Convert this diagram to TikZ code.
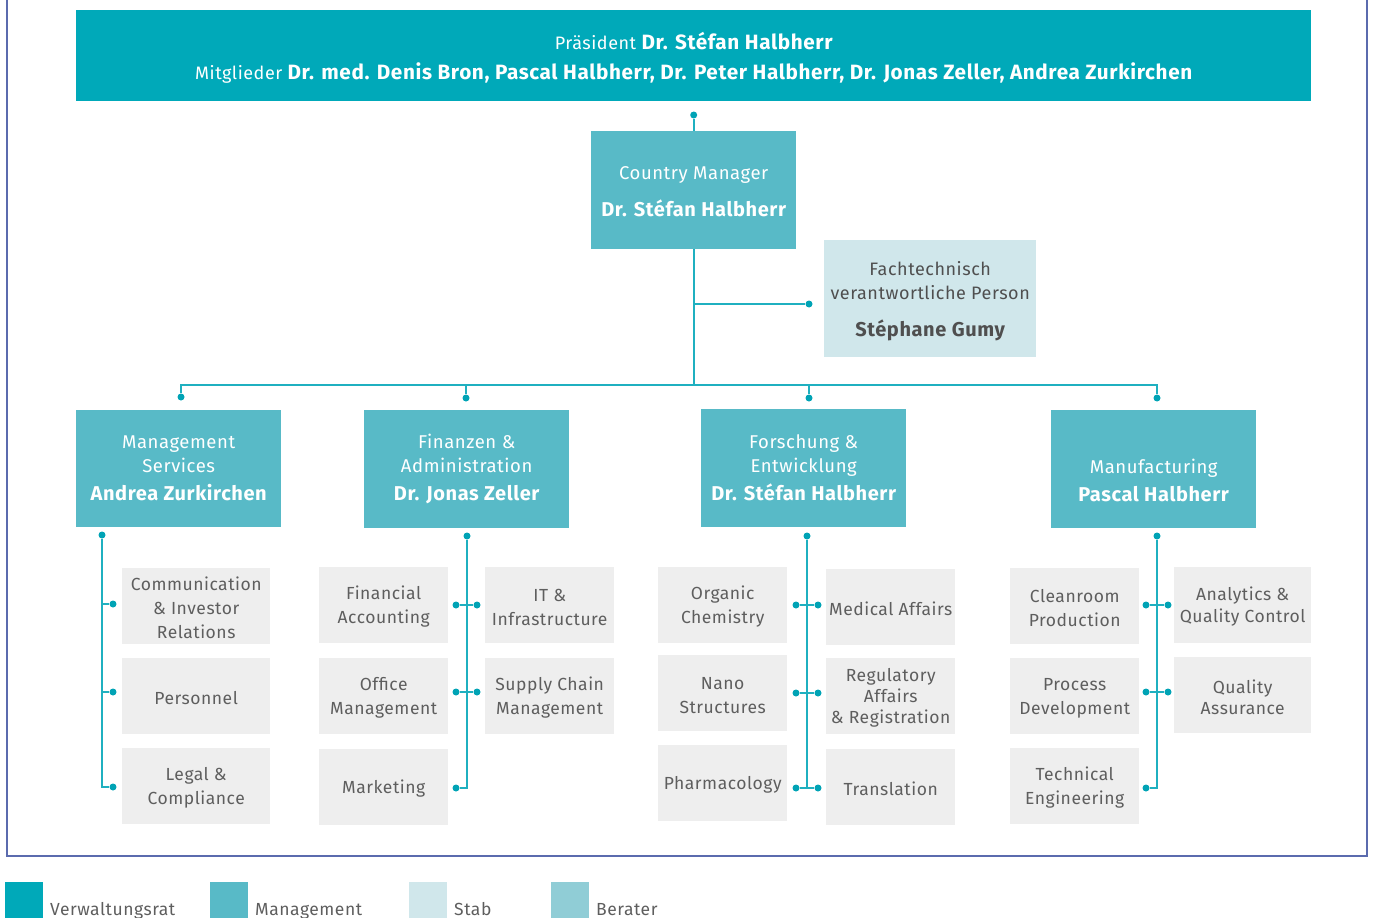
\documentclass[tikz,border=0pt]{standalone}
\usepackage{fontspec}
\setmainfont{Fira Sans}[LetterSpace=3]
\definecolor{vr}{HTML}{00A9B9}
\definecolor{mg}{HTML}{58BAC7}
\definecolor{st}{HTML}{D0E7EB}
\definecolor{be}{HTML}{90CDD6}
\definecolor{gb}{HTML}{EEEEEE}
\definecolor{gt}{HTML}{5E5E5E}
\definecolor{stt}{HTML}{4F4F4F}
\definecolor{ln}{HTML}{1FB0C0}
\definecolor{dt}{HTML}{00A3B5}
\definecolor{fr}{HTML}{5B6BAE}
\tikzset{
  box/.style={rectangle, inner sep=0pt, align=center, anchor=north west},
  vrbox/.style={box, fill=vr, text=white, font=\fontsize{18}{30}\selectfont},
  mgbox/.style={box, fill=mg, text=white, font=\fontsize{18.5}{24}\selectfont},
  stbox/.style={box, fill=st, text=stt, font=\fontsize{18}{24}\selectfont},
  unit/.style={box, fill=gb, text=gt, font=\fontsize{17.5}{24}\selectfont},
  conn/.style={draw=ln, line width=1.8pt},
  dot/.style={circle, fill=dt, inner sep=0pt, minimum size=7pt},
  legsq/.style={rectangle, inner sep=0pt, anchor=north west, minimum width=38pt, minimum height=40pt},
  leglab/.style={anchor=base west, inner sep=0pt, text=gt, font=\fontsize{17.5}{20}\selectfont},
}
\newcommand{\bn}[1]{{\fontsize{20}{24}\selectfont\bfseries #1}}
\newcommand{\hb}[1]{{\fontsize{20.7}{24}\selectfont\bfseries #1}}
\newcommand{\ts}{\rule{0pt}{17pt}}
\begin{document}
\begin{tikzpicture}[x=1pt,y=-1pt]
\useasboundingbox (0,0) rectangle (1373,918);
% frame
\draw[fr, line width=1.3pt] (7,-5) -- (7,856) -- (1367,856) -- (1367,-5);

% header
\node[vrbox, minimum width=1235pt, minimum height=91pt] (hdr) at (76,10)
  {\rule{0pt}{21pt}Präsident \hb{Dr. Stéfan Halbherr}\\
   Mitglieder \hb{Dr. med. Denis Bron, Pascal Halbherr, Dr. Peter Halbherr, Dr. Jonas Zeller, Andrea Zurkirchen}};

% country manager
\node[mgbox, minimum width=205pt, minimum height=118pt] (cm) at (591,131)
  {\rule{0pt}{16pt}Country Manager\\[13pt]\bn{Dr. Stéfan Halbherr}};
% stab
\node[stbox, minimum width=212pt, minimum height=117pt] (stab) at (824,240)
  {\rule{0pt}{20pt}Fachtechnisch\\verantwortliche Person\\[13pt]\bn{Stéphane Gumy}};

% management row
\node[mgbox, minimum width=205pt, minimum height=117pt] (ms) at (76,410)
  {Management\\Services\\[4pt]\bn{Andrea Zurkirchen}};
\node[mgbox, minimum width=205pt, minimum height=118pt] (fa) at (364,410)
  {Finanzen \&\\Administration\\[4pt]\bn{Dr. Jonas Zeller}};
\node[mgbox, minimum width=205pt, minimum height=118pt] (fe) at (701,409)
  {Forschung \&\\Entwicklung\\[4pt]\bn{Dr. Stéfan Halbherr}};
\node[mgbox, minimum width=205pt, minimum height=118pt] (mf) at (1051,410)
  {\vphantom{Mg}\\Manufacturing\\[4pt]\bn{Pascal Halbherr}};

% units: Management Services
\node[unit, minimum width=148pt, minimum height=76pt] (ms1) at (122,568) {\ts Communication\\\& Investor\\Relations};
\node[unit, minimum width=148pt, minimum height=76pt] (ms2) at (122,658) {\ts Personnel};
\node[unit, minimum width=148pt, minimum height=76pt] (ms3) at (122,748) {\ts Legal \&\\Compliance};
% units: Finanzen
\node[unit, minimum width=129pt, minimum height=76pt] (fa1) at (319,567) {\ts Financial\\Accounting};
\node[unit, minimum width=129pt, minimum height=76pt] (fa2) at (319,658) {\ts Office\\Management};
\node[unit, minimum width=129pt, minimum height=76pt] (fa3) at (319,749) {\ts Marketing};
\node[unit, minimum width=129pt, minimum height=76pt] (fa4) at (485,567) {\ts IT \&\\Infrastructure};
\node[unit, minimum width=129pt, minimum height=76pt] (fa5) at (485,658) {\ts Supply Chain\\Management};
% units: Forschung
\node[unit, minimum width=129pt, minimum height=76pt] (fe1) at (658,567) {\ts Organic\\Chemistry};
\node[unit, minimum width=129pt, minimum height=76pt] (fe2) at (658,655) {\ts Nano\\Structures};
\node[unit, minimum width=129pt, minimum height=76pt] (fe3) at (658,745) {\ts Pharmacology};
\node[unit, minimum width=129pt, minimum height=76pt] (fe4) at (826,569) {\ts Medical Affairs};
\node[unit, minimum width=129pt, minimum height=76pt, font=\fontsize{17.5}{21}\selectfont] (fe5) at (826,658) {\ts Regulatory\\Affairs\\\& Registration};
\node[unit, minimum width=129pt, minimum height=76pt] (fe6) at (826,749) {\ts Translation};
% units: Manufacturing
\node[unit, minimum width=129pt, minimum height=76pt] (mf1) at (1010,568) {\ts Cleanroom\\Production};
\node[unit, minimum width=129pt, minimum height=76pt] (mf2) at (1010,658) {\ts Process\\Development};
\node[unit, minimum width=129pt, minimum height=76pt] (mf3) at (1010,748) {\ts Technical\\Engineering};
\node[unit, minimum width=137pt, minimum height=76pt, font=\fontsize{17.5}{22}\selectfont] (mf4) at (1174,567) {\ts Analytics \&\\Quality Control};
\node[unit, minimum width=137pt, minimum height=76pt, font=\fontsize{17.5}{21}\selectfont] (mf5) at (1174,657) {\ts Quality\\Assurance};

% --- connectors top
\node[dot] (dtop) at (cm.north |- 0,115) {};
\draw[conn] (dtop) -- (cm.north);
\coordinate (bus) at (cm.south |- 0,385);
\coordinate (sj) at (cm.south |- 0,304);
\node[dot] (dst) at (809,304) {};
\draw[conn] (cm.south) -- (bus);
\draw[conn] (sj) -- (dst);
\node[dot] (dms) at (181,397) {};
\node[dot] (dfa) at (466,398) {};
\node[dot] (dfe) at (809,398) {};
\node[dot] (dmf) at (1157,398) {};
\draw[conn] (dms) -- (181,385) -- (1157,385) -- (dmf);
\draw[conn] (466,385) -- (dfa);
\draw[conn] (809,385) -- (dfe);

% --- Management Services subtree
\node[dot] (ms0) at (102,535) {};
\node[dot] (msa) at (113,604) {};
\node[dot] (msb) at (113,692) {};
\node[dot] (msc) at (113,787) {};
\draw[conn] (ms0) -- (102,787) -- (msc);
\draw[conn] (102,604) -- (msa);
\draw[conn] (102,692) -- (msb);

% --- Finanzen subtree
\node[dot] (fa0) at (467,536) {};
\node[dot] (fal1) at (456,605) {};
\node[dot] (far1) at (477,605) {};
\node[dot] (fal2) at (456,692) {};
\node[dot] (far2) at (477,692) {};
\node[dot] (fal3) at (456,788) {};
\draw[conn] (fa0) -- (467,788) -- (fal3);
\draw[conn] (fal1) -- (far1);
\draw[conn] (fal2) -- (far2);

% --- Forschung subtree
\node[dot] (fe0) at (807,536) {};
\node[dot] (fel1) at (796,605) {};
\node[dot] (fer1) at (818,605) {};
\node[dot] (fel2) at (796,693) {};
\node[dot] (fer2) at (818,693) {};
\node[dot] (fel3) at (796,788) {};
\node[dot] (fer3) at (818,788) {};
\draw[conn] (fe0) -- (807,788);
\draw[conn] (fel1) -- (fer1);
\draw[conn] (fel2) -- (fer2);
\draw[conn] (fel3) -- (fer3);

% --- Manufacturing subtree
\node[dot] (mf0) at (1157,536) {};
\node[dot] (mfl1) at (1146,605) {};
\node[dot] (mfr1) at (1168,605) {};
\node[dot] (mfl2) at (1146,692) {};
\node[dot] (mfr2) at (1168,692) {};
\node[dot] (mfl3) at (1146,788) {};
\draw[conn] (mf0) -- (1157,788) -- (mfl3);
\draw[conn] (mfl1) -- (mfr1);
\draw[conn] (mfl2) -- (mfr2);

% --- legend
\node[legsq, fill=vr] (l1) at (5,882) {};
\node[leglab] (t1) at (50,915) {Verwaltungsrat};
\node[legsq, fill=mg] (l2) at (210,882) {};
\node[leglab] (t2) at (255,915) {Management};
\node[legsq, fill=st] (l3) at (409,882) {};
\node[leglab] (t3) at (454,915) {Stab};
\node[legsq, fill=be] (l4) at (551,882) {};
\node[leglab] (t4) at (596,915) {Berater};
\end{tikzpicture}
\end{document}
